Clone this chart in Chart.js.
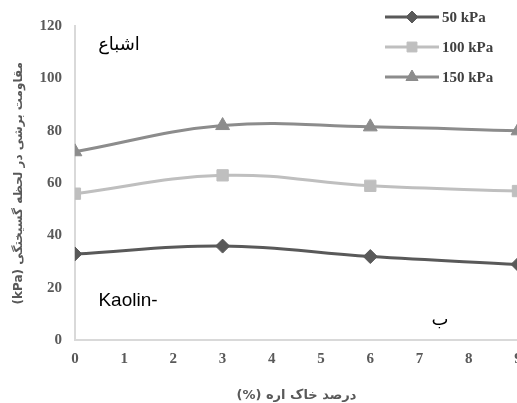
<!DOCTYPE html>
<html>
<head>
<meta charset="utf-8">
<script src="https://cdn.jsdelivr.net/npm/chart.js@4.4.0/dist/chart.umd.min.js"></script>
<style>
  html, body { margin: 0; padding: 0; background: #fff; overflow: hidden; }
  #wrap { width: 517px; height: 403px; overflow: hidden; position: relative; }
  #box { width: 540px; height: 403px; }
</style>
</head>
<body>
<div id="wrap"><div id="box"><canvas id="chart"></canvas></div></div>
<script>
// sawdust content (%)
const sawdust = [0, 3, 6, 9];
const kpa50 = [33, 36, 32, 29];
const kpa100 = [56, 63, 59, 57];
const kpa150 = [72, 82, 81.5, 80];
const seriesNames = ['50 kPa', '100 kPa', '150 kPa'];
const xTicks = [0, 1, 2, 3, 4, 5, 6, 7, 8, 9];
const yTicks = [0, 20, 40, 60, 80, 100, 120];

const toPoints = vals => vals.map((v, i) => ({ x: sawdust[i], y: v }));

const tickFont = { family: 'Liberation Serif', size: 15, weight: 'bold' };

// legend + text notes drawn on the canvas
const notesPlugin = {
  id: 'notes',
  afterDraw(chart) {
    const c = chart.ctx;
    c.save();
    chart.data.datasets.forEach((ds, i) => {
      const y = 17 + i * 30;
      c.strokeStyle = ds.borderColor;
      c.fillStyle = ds.backgroundColor;
      c.lineWidth = 3;
      c.beginPath();
      c.moveTo(385, y);
      c.lineTo(439, y);
      c.stroke();
      c.lineWidth = 1;
      Chart.helpers.drawPoint(c, {
        pointStyle: ds.pointStyle,
        radius: ds.pointStyle === 'rectRot' ? 6 : 7,
        rotation: 0,
        borderWidth: 1
      }, 412, y);
      c.fillStyle = '#404040';
      c.font = 'bold 15px "Liberation Serif"';
      c.textBaseline = 'middle';
      c.textAlign = 'left';
      c.fillText(ds.label, 442, y + 1);
    });
    c.fillStyle = '#000';
    c.textBaseline = 'middle';
    c.textAlign = 'center';
    c.font = '18px "DejaVu Sans"';
    c.fillText('اشباع', 119, 45);
    c.font = '19px "Liberation Sans"';
    c.fillText('Kaolin-', 128, 301);
    c.font = '18px "DejaVu Sans"';
    c.fillText('ب', 440, 320);
    c.restore();
  }
};

new Chart(document.getElementById('chart'), {
  type: 'line',
  data: {
    datasets: [
      {
        label: seriesNames[0],
        data: toPoints(kpa50),
        borderColor: '#595959',
        backgroundColor: '#595959',
        pointStyle: 'rectRot',
        pointRadius: 7
      },
      {
        label: seriesNames[1],
        data: toPoints(kpa100),
        borderColor: '#bfbfbf',
        backgroundColor: '#bfbfbf',
        pointStyle: 'rect',
        pointRadius: 8
      },
      {
        label: seriesNames[2],
        data: toPoints(kpa150),
        borderColor: '#8c8c8c',
        backgroundColor: '#8c8c8c',
        pointStyle: 'triangle',
        pointRadius: 8
      }
    ]
  },
  options: {
    responsive: true,
    maintainAspectRatio: false,
    animation: false,
    devicePixelRatio: 1,
    layout: { padding: { top: 26, right: 22, left: 8, bottom: 0 } },
    elements: {
      line: { borderWidth: 3, tension: 0.4, fill: false },
      point: { borderWidth: 1 }
    },
    plugins: {
      legend: { display: false },
      tooltip: { enabled: false }
    },
    scales: {
      x: {
        type: 'linear',
        min: 0,
        max: 9,
        afterBuildTicks: axis => { axis.ticks = xTicks.map(v => ({ value: v })); },
        grid: { display: false, drawTicks: false },
        border: { display: true, color: '#d9d9d9', width: 2 },
        ticks: { color: '#595959', font: tickFont, padding: 10, maxRotation: 0 },
        title: {
          display: true,
          text: '(%) درصد خاک اره',
          color: '#595959',
          font: { family: 'DejaVu Sans', size: 13, weight: 'bold' },
          padding: { top: 9, bottom: 0 }
        }
      },
      y: {
        min: 0,
        max: 120,
        afterBuildTicks: axis => { axis.ticks = yTicks.map(v => ({ value: v })); },
        grid: { display: false, drawTicks: false },
        border: { display: true, color: '#d9d9d9', width: 2 },
        ticks: { color: '#595959', font: tickFont, padding: 13 },
        title: {
          display: true,
          text: '(kPa) مقاومت برشی در لحظه گسیختگی',
          color: '#595959',
          font: { family: 'DejaVu Sans', size: 12, weight: 'bold' },
          padding: { bottom: 0 }
        }
      }
    }
  },
  plugins: [notesPlugin]
});
</script>
</body>
</html>
